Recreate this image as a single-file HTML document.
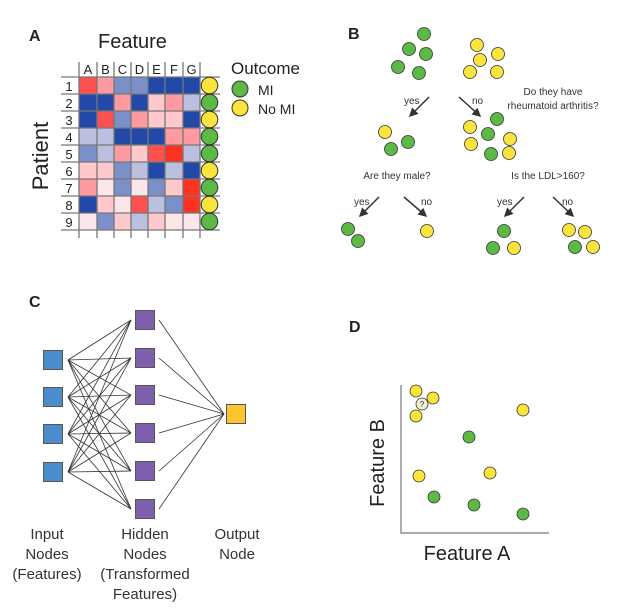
<!DOCTYPE html>
<html><head><meta charset="utf-8"><style>
html,body{margin:0;padding:0;background:#fff;}
svg{display:block;font-family:"Liberation Sans",sans-serif;}
</style></head><body>
<svg width="639" height="610" viewBox="0 0 639 610" xmlns="http://www.w3.org/2000/svg">
<!-- Panel A -->
<text x="29" y="41" font-size="16" font-weight="bold" fill="#222">A</text>
<text x="98" y="48" font-size="20" fill="#222">Feature</text>
<text transform="translate(48,156) rotate(-90)" font-size="22" fill="#222" text-anchor="middle">Patient</text>
<g id="cells"></g>
<g stroke="#777" stroke-width="1.3">
<line x1="79" y1="62" x2="79" y2="238"/><line x1="97" y1="62" x2="97" y2="238"/><line x1="114" y1="62" x2="114" y2="238"/><line x1="131" y1="62" x2="131" y2="238"/><line x1="148" y1="62" x2="148" y2="238"/><line x1="165" y1="62" x2="165" y2="238"/><line x1="183" y1="62" x2="183" y2="238"/><line x1="200" y1="62" x2="200" y2="238"/>
<line x1="61" y1="77" x2="220" y2="77"/><line x1="61" y1="94" x2="220" y2="94"/><line x1="61" y1="111" x2="220" y2="111"/><line x1="61" y1="128" x2="220" y2="128"/><line x1="61" y1="145" x2="220" y2="145"/><line x1="61" y1="162" x2="220" y2="162"/><line x1="61" y1="179" x2="220" y2="179"/><line x1="61" y1="196" x2="220" y2="196"/><line x1="61" y1="213" x2="220" y2="213"/><line x1="61" y1="230" x2="220" y2="230"/>
</g>
<g font-size="13" fill="#222" text-anchor="middle">
<text x="88" y="74">A</text><text x="105.5" y="74">B</text><text x="122.5" y="74">C</text><text x="139.5" y="74">D</text><text x="156.5" y="74">E</text><text x="174" y="74">F</text><text x="191.5" y="74">G</text>
<text x="69" y="91">1</text><text x="69" y="108">2</text><text x="69" y="125">3</text><text x="69" y="142">4</text><text x="69" y="159">5</text><text x="69" y="176">6</text><text x="69" y="193">7</text><text x="69" y="210">8</text><text x="69" y="227">9</text>
</g>
<text x="231" y="74" font-size="17" fill="#222">Outcome</text>
<circle cx="240" cy="89" r="8" fill="#5cb946" stroke="#333"/>
<circle cx="240" cy="108" r="8" fill="#fbe43c" stroke="#333"/>
<text x="258" y="95" font-size="14" fill="#222">MI</text>
<text x="258" y="114" font-size="14" fill="#222">No MI</text>

<!-- Panel B -->
<text x="348" y="39" font-size="16" font-weight="bold" fill="#222">B</text>
<g stroke="#333" stroke-width="0.8">
<g fill="#5cb946">
<circle cx="424" cy="34" r="6.5"/><circle cx="409" cy="49" r="6.5"/><circle cx="426" cy="54" r="6.5"/><circle cx="398" cy="67" r="6.5"/><circle cx="419" cy="73" r="6.5"/>
<circle cx="408" cy="142" r="6.5"/><circle cx="391" cy="149" r="6.5"/>
<circle cx="497" cy="119" r="6.5"/><circle cx="488" cy="134" r="6.5"/><circle cx="491" cy="154" r="6.5"/>
<circle cx="348" cy="229" r="6.5"/><circle cx="358" cy="241" r="6.5"/>
<circle cx="504" cy="231" r="6.5"/><circle cx="493" cy="248" r="6.5"/><circle cx="575" cy="247" r="6.5"/>
</g>
<g fill="#fbe43c">
<circle cx="477" cy="45" r="6.5"/><circle cx="498" cy="54" r="6.5"/><circle cx="480" cy="60" r="6.5"/><circle cx="470" cy="72" r="6.5"/><circle cx="497" cy="72" r="6.5"/>
<circle cx="385" cy="132" r="6.5"/>
<circle cx="470" cy="127" r="6.5"/><circle cx="510" cy="139" r="6.5"/><circle cx="471" cy="144" r="6.5"/><circle cx="509" cy="153" r="6.5"/>
<circle cx="427" cy="231" r="6.5"/><circle cx="514" cy="248" r="6.5"/>
<circle cx="569" cy="230" r="6.5"/><circle cx="585" cy="232" r="6.5"/><circle cx="593" cy="247" r="6.5"/>
</g>
</g>
<defs><marker id="ah" markerWidth="6" markerHeight="6" refX="5" refY="3" orient="auto"><path d="M0,0 L6,3 L0,6 Z" fill="#333"/></marker></defs>
<g stroke="#333" stroke-width="1.5" marker-end="url(#ah)">
<line x1="429" y1="97" x2="410" y2="116"/><line x1="459" y1="97" x2="480" y2="116"/>
<line x1="379" y1="197" x2="360" y2="216"/><line x1="404" y1="197" x2="426" y2="216"/>
<line x1="524" y1="197" x2="505" y2="216"/><line x1="553" y1="197" x2="573" y2="216"/>
</g>
<g font-size="10" fill="#333">
<text x="404" y="104">yes</text><text x="472" y="104">no</text>
<text x="354" y="205">yes</text><text x="421" y="205">no</text>
<text x="497" y="205">yes</text><text x="562" y="205">no</text>
<text x="553" y="95" text-anchor="middle">Do they have</text>
<text x="553" y="109" text-anchor="middle">rheumatoid arthritis?</text>
<text x="397" y="179" text-anchor="middle">Are they male?</text>
<text x="548" y="179" text-anchor="middle">Is the LDL&gt;160?</text>
</g>

<!-- Panel C -->
<text x="29" y="307" font-size="16" font-weight="bold" fill="#222">C</text>
<g id="netlines" stroke="#333" stroke-width="0.8"></g>
<g fill="#4a8ccc" stroke="#555" stroke-width="1">
<rect x="43.5" y="350.5" width="19" height="19"/><rect x="43.5" y="387.5" width="19" height="19"/><rect x="43.5" y="424.5" width="19" height="19"/><rect x="43.5" y="462.5" width="19" height="19"/>
</g>
<g fill="#7e5fad" stroke="#555" stroke-width="1">
<rect x="135.5" y="310.5" width="19" height="19"/><rect x="135.5" y="348.5" width="19" height="19"/><rect x="135.5" y="385.5" width="19" height="19"/><rect x="135.5" y="423.5" width="19" height="19"/><rect x="135.5" y="461.5" width="19" height="19"/><rect x="135.5" y="499.5" width="19" height="19"/>
</g>
<rect x="226.5" y="404.5" width="19" height="19" fill="#fbc530" stroke="#555"/>
<g font-size="15" fill="#333" text-anchor="middle">
<text x="47" y="539">Input</text><text x="47" y="559">Nodes</text><text x="47" y="579">(Features)</text>
<text x="145" y="539">Hidden</text><text x="145" y="559">Nodes</text><text x="145" y="579">(Transformed</text><text x="145" y="599">Features)</text>
<text x="237" y="539">Output</text><text x="237" y="559">Node</text>
</g>

<!-- Panel D -->
<text x="349" y="332" font-size="16" font-weight="bold" fill="#222">D</text>
<path d="M401,385 V533 H549" fill="none" stroke="#777" stroke-width="1.2"/>
<g stroke="#333" stroke-width="0.8">
<g fill="#fbe43c"><circle cx="416" cy="391" r="6"/><circle cx="433" cy="398" r="6"/><circle cx="416" cy="416" r="6"/><circle cx="523" cy="410" r="6"/><circle cx="419" cy="476" r="6"/><circle cx="490" cy="473" r="6"/></g>
<circle cx="422" cy="404" r="6" fill="#f0efcf"/>
<g fill="#5cb946"><circle cx="469" cy="437" r="6"/><circle cx="434" cy="497" r="6"/><circle cx="474" cy="505" r="6"/><circle cx="523" cy="514" r="6"/></g>
</g>
<text x="422" y="407" font-size="8" fill="#333" text-anchor="middle">?</text>
<text x="467" y="560" font-size="20" fill="#222" text-anchor="middle">Feature A</text>
<text transform="translate(384,463) rotate(-90)" font-size="20" fill="#222" text-anchor="middle">Feature B</text>

<script>
(function(){
var ns="http://www.w3.org/2000/svg";
var P={R:"#ff5050",B:"#ff3322",p:"#ff9aa0",l:"#ffc8cc",v:"#fde6ea",m:"#7b8fc8",L:"#bbc0e0",D:"#2248a8"};
var rows=["RpmmDDD","DDpDlpL","DRmplID".replace("I","l"),"LLDDDpp","mLplRBL","llmLDLD","pvmvmlB","DlvRLmB","vmlLlvv"];
rows[2]="DRmpllD";
var circ="ygyggygyg";
var xs=[79,97,114,131,148,165,183,200];
var g=document.getElementById("cells");
for(var r=0;r<9;r++){
 for(var c=0;c<7;c++){
  var e=document.createElementNS(ns,"rect");
  e.setAttribute("x",xs[c]);e.setAttribute("y",77+r*17);
  e.setAttribute("width",xs[c+1]-xs[c]);e.setAttribute("height",17);
  e.setAttribute("fill",P[rows[r][c]]);g.appendChild(e);
 }
 var ci=document.createElementNS(ns,"circle");
 ci.setAttribute("cx",209.5);ci.setAttribute("cy",85.5+r*17);ci.setAttribute("r",8.3);
 ci.setAttribute("fill",circ[r]=="g"?"#5cb946":"#fbe43c");ci.setAttribute("stroke","#333");
 document.querySelector("svg").appendChild(ci);
}
var nl=document.getElementById("netlines");
var ins=[360,397,434,472],hid=[320,358,395,433,471,509];
function ln(a,b,c,d){var l=document.createElementNS(ns,"line");l.setAttribute("x1",a);l.setAttribute("y1",b);l.setAttribute("x2",c);l.setAttribute("y2",d);nl.appendChild(l);}
ins.forEach(function(i){hid.forEach(function(h){ln(68,i,131,h);});});
hid.forEach(function(h){ln(159,h,224,414);});
})();
</script>
</svg>
</body></html>
